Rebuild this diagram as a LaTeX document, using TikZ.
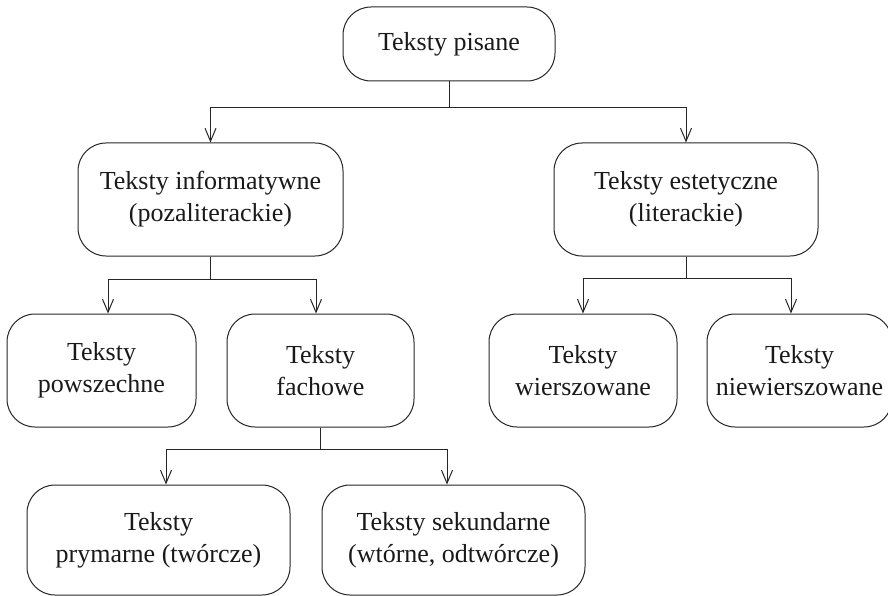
\documentclass[tikz,border=0pt]{standalone}
\usepackage{fontspec}
\setmainfont{Liberation Serif}
\usetikzlibrary{arrows.meta}
\begin{document}
\begin{tikzpicture}[x=1pt,y=-1pt,
  box/.style={draw=black!85, line width=1pt, rounded corners=28pt,
    align=center, inner sep=0pt, font=\fontsize{26}{32}\selectfont,
    text=black!90},
  link/.style={draw=black!85, line width=1pt},
  arr/.style={link, -{Straight Barb[length=13pt,width=11pt,line width=1pt]}}]
\useasboundingbox (0,0) rectangle (888,596);

% boxes
\node[box, minimum width=212pt, minimum height=74pt] (top) at (449,44) {Teksty pisane};
\node[box, minimum width=265pt, minimum height=113pt] (inf) at (210.5,199.5) {Teksty informatywne\\(pozaliterackie)};
\node[box, minimum width=264pt, minimum height=113pt] (est) at (686,199.5) {Teksty estetyczne\\(literackie)};
\node[box, minimum width=189pt, minimum height=113pt] (pow) at (101.5,370.5) {Teksty\\powszechne};
\node[box, minimum width=187pt, minimum height=113pt] (fach) at (320.5,370.5) {Teksty\\fachowe};
\node[box, minimum width=188pt, minimum height=113pt] (wier) at (583,370.5) {Teksty\\wierszowane};
\node[box, minimum width=185pt, minimum height=113pt] (niew) at (799.5,370.5) {Teksty\\niewierszowane};
\node[box, minimum width=263pt, minimum height=110pt] (prym) at (158.5,540) {Teksty\\prymarne (twórcze)};
\node[box, minimum width=263pt, minimum height=110pt] (sek) at (453.5,540) {Teksty sekundarne\\(wtórne, odtwórcze)};

% branch points
\path (top.south) ++(0,26) coordinate (j1);
\path (inf.south) ++(0,23) coordinate (j2);
\path (est.south) ++(0,22) coordinate (j3);
\path (fach.south) ++(0,22) coordinate (j4);

% connectors
\draw[link] (top.south) -- (j1);
\draw[arr] (j1) -| (inf.north);
\draw[arr] (j1) -| (est.north);

\draw[link] (inf.south) -- (j2);
\draw[arr] (j2) -| ([xshift=6.5pt]pow.north);
\draw[arr] (j2) -| ([xshift=-4.5pt]fach.north);

\draw[link] (est.south) -- (j3);
\draw[arr] (j3) -| (wier.north);
\draw[arr] (j3) -| ([xshift=-8.5pt]niew.north);

\draw[link] (fach.south) -- (j4);
\draw[arr] (j4) -| ([xshift=7.5pt]prym.north);
\draw[arr] (j4) -| ([xshift=-6.5pt]sek.north);
\end{tikzpicture}
\end{document}
